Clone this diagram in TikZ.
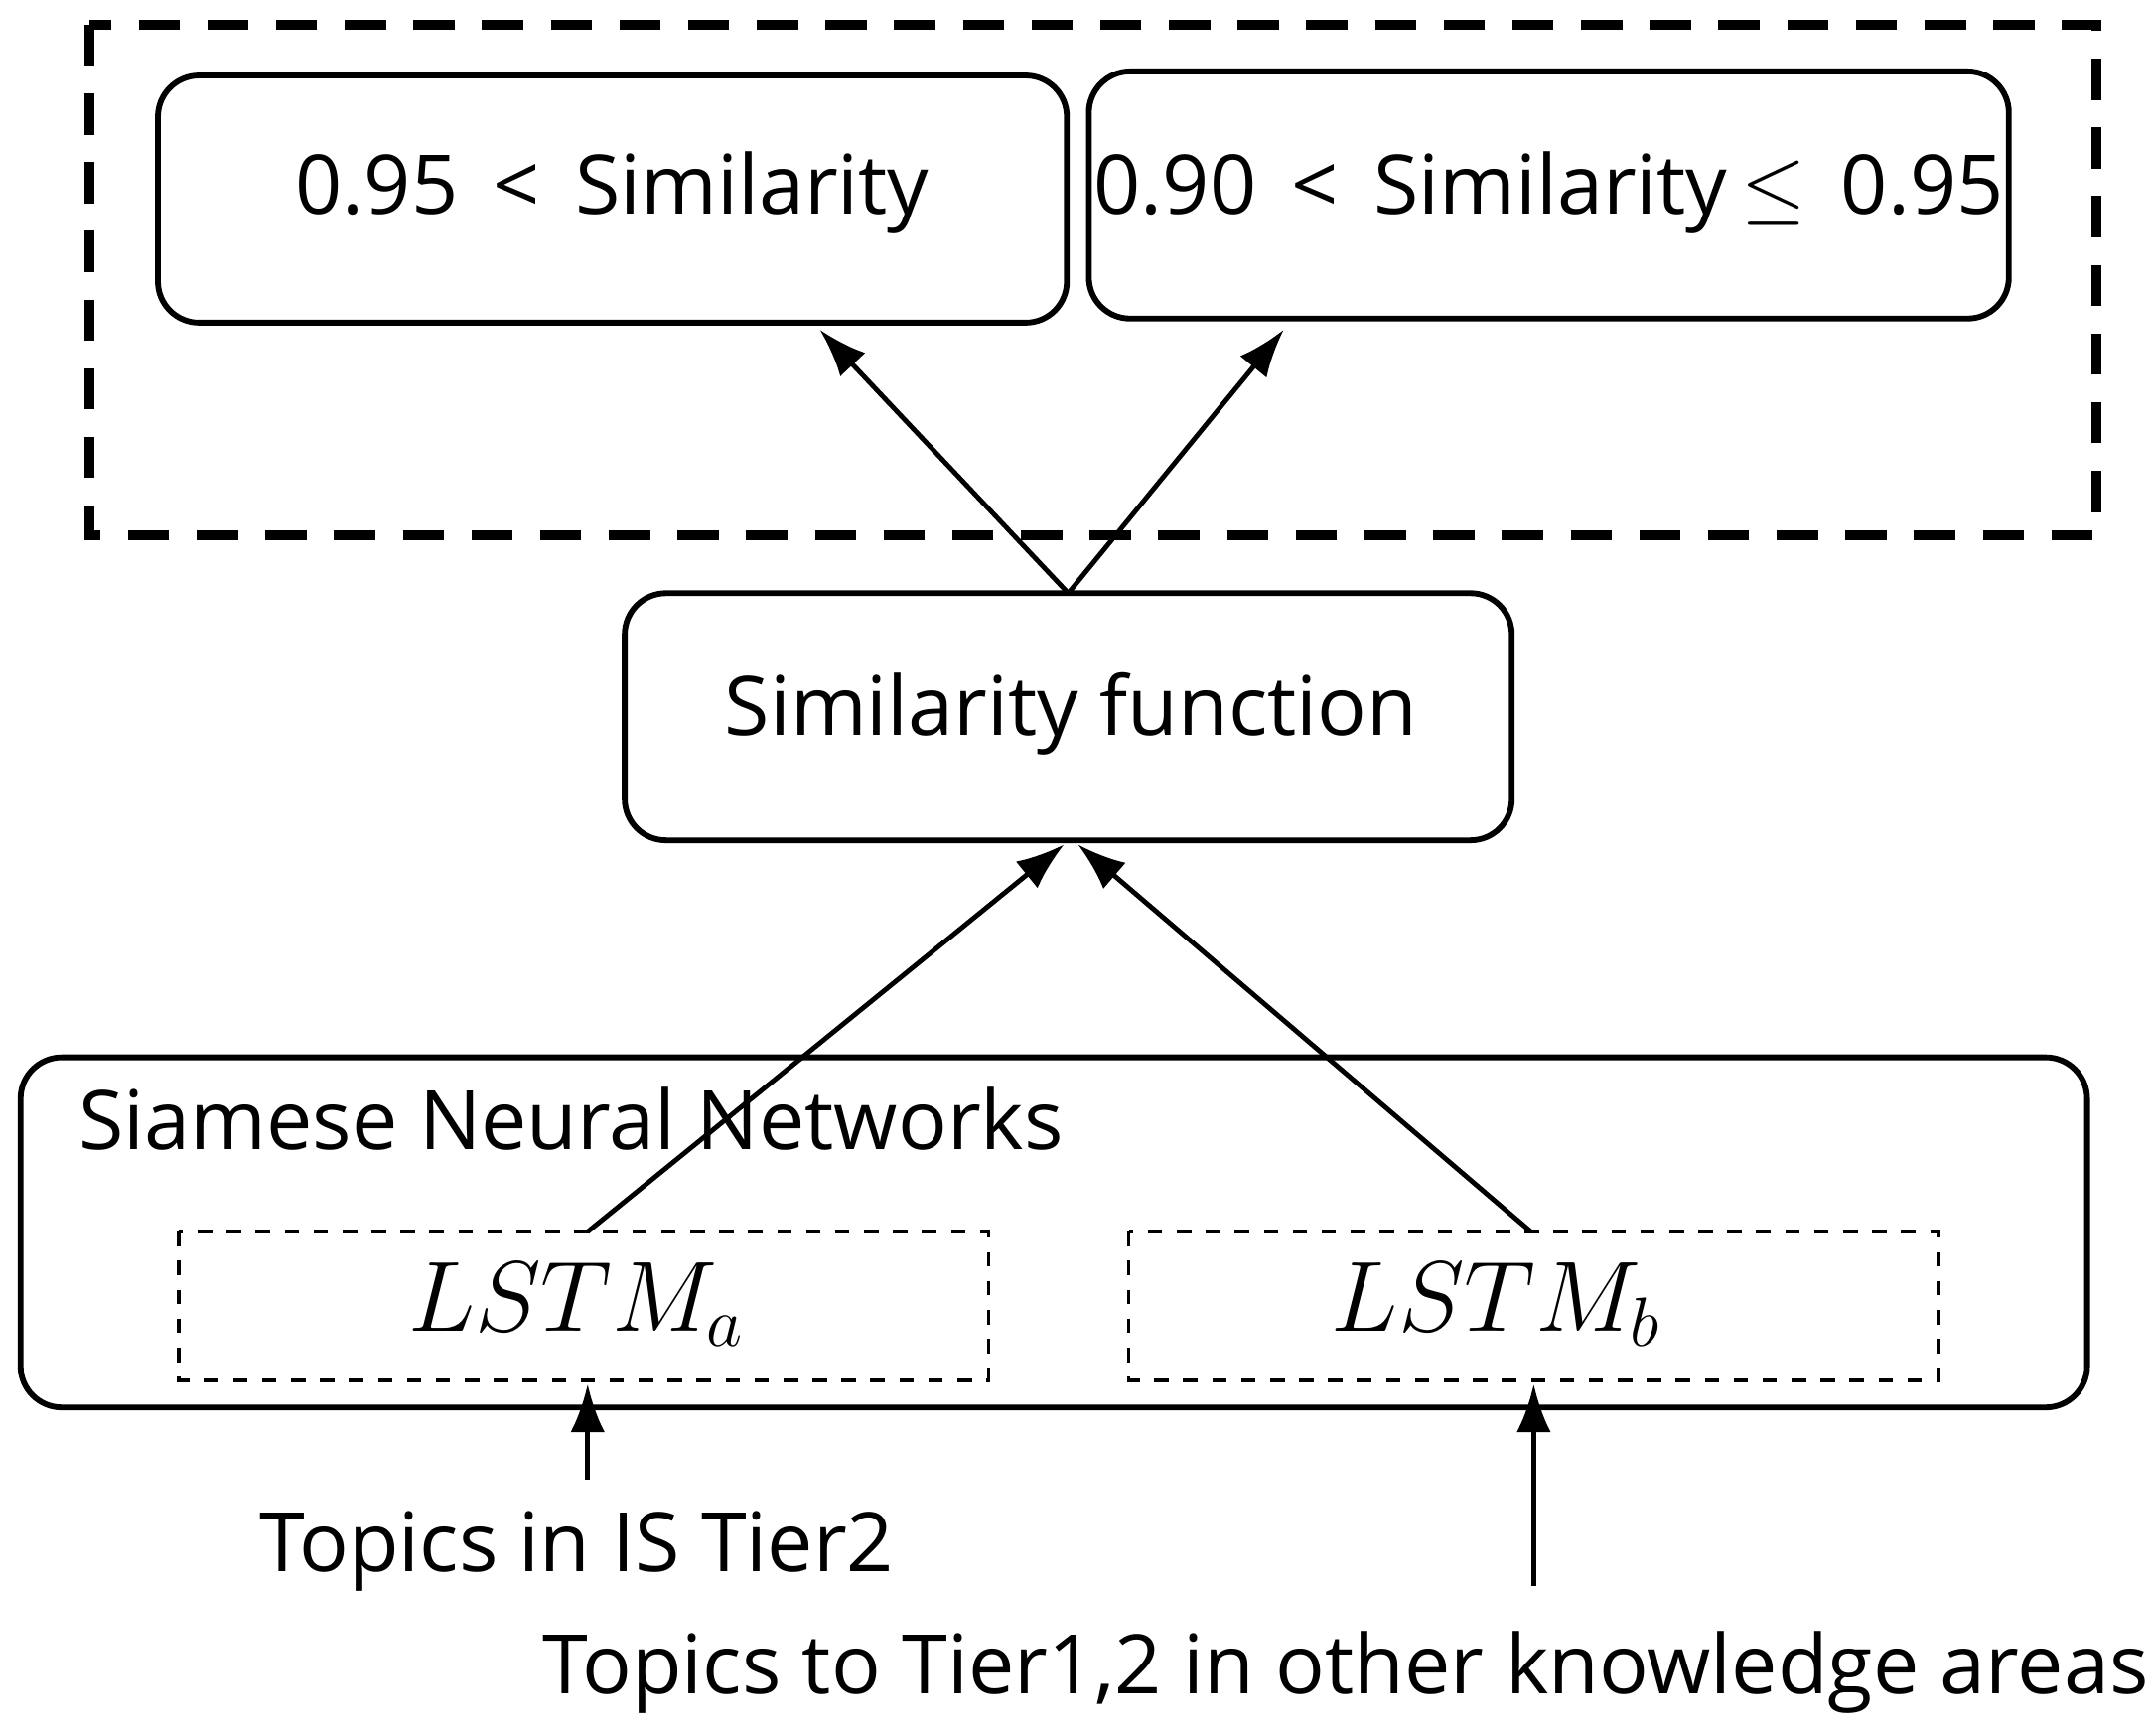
\documentclass[tikz,border=0pt]{standalone}
\usepackage{fontspec}
\setmainfont{Open Sans}
\usepackage{amssymb}
\usetikzlibrary{arrows.meta}
\begin{document}
\begin{tikzpicture}[x=0.01cm,y=-0.01cm,
  box/.style={draw,line width=1.2pt,rounded corners=0.3cm},
  dbox/.style={draw,dashed,line width=0.8pt},
  arr/.style={-{Latex[length=0.35cm,width=0.25cm]},line width=1pt},
  txt/.style={font=\fontsize{17}{20}\selectfont}]
\useasboundingbox (0,0) rectangle (1568,1264);
\draw[dashed,line width=2pt,dash pattern=on 0.3cm off 0.2cm] (65,18) rectangle (1527,390);
\draw[box] (115,55) rectangle (777,235);
\node[txt] (b1) at (446,140) {0.95 \,<\, Similarity};
\draw[box] (793,52) rectangle (1463,232);
\node[txt] (b2) at (1128,140) {0.90 \,<\, Similarity\,$\leq$\, 0.95};
\draw[box] (455,432) rectangle (1101,612);
\node[txt] (sf) at (780,520) {Similarity function};
\draw[box] (15,770) rectangle (1520,1025);
\node[txt,anchor=west] (sn) at (45,815) {Siamese Neural Networks};
\draw[dbox] (130,897) rectangle (720,1005);
\node[font=\fontsize{22}{24}\selectfont] (la) at (420,950) {$LSTM_a$};
\draw[dbox] (822,897) rectangle (1412,1005);
\node[font=\fontsize{22}{24}\selectfont] (lb) at (1090,950) {$LSTM_b$};
\coordinate (sftop) at (778,432);
\coordinate (t1) at (597,240);
\coordinate (t2) at (935,240);
\coordinate (sfb1) at (775,615);
\coordinate (sfb2) at (785,615);
\coordinate (la0) at (428,897);
\coordinate (lb0) at (1115,897);
\coordinate (ina) at (428,1008);
\coordinate (inb) at (1117,1008);
\coordinate (sa) at (428,1078);
\coordinate (sb) at (1117,1155);
\draw[arr] (sftop) -- (t1);
\draw[arr] (sftop) -- (t2);
\draw[arr] (la0) -- (sfb1);
\draw[arr] (lb0) -- (sfb2);
\draw[arr] (sa) -- (ina);
\draw[arr] (sb) -- (inb);
\node[txt] (ta) at (420,1130) {Topics in IS Tier2};
\node[txt] (tb) at (980,1218) {Topics to Tier1,2 in other knowledge areas};
\end{tikzpicture}
\end{document}
